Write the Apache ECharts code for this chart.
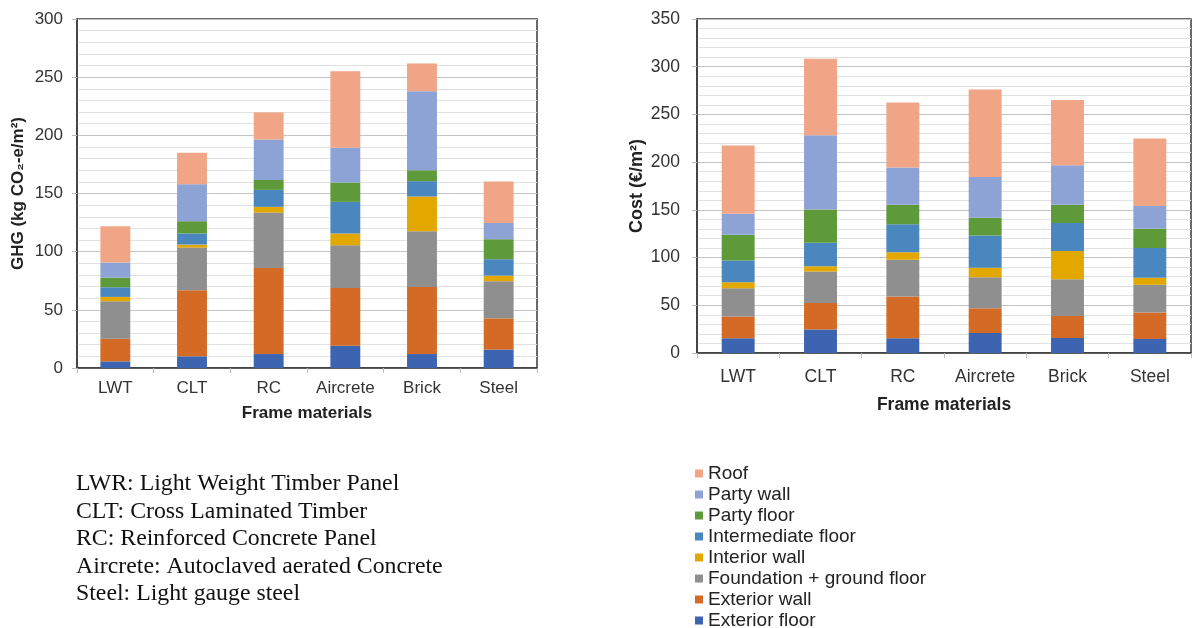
<!DOCTYPE html>
<html>
<head>
<meta charset="utf-8">
<script src="https://cdn.jsdelivr.net/npm/echarts@6/dist/echarts.min.js"></script>
<style>
html,body{margin:0;padding:0;background:#fff;}
#chart{width:1194px;height:628px;}
</style>
</head>
<body>
<div id="chart"></div>
<script>
const categories = ['LWT', 'CLT', 'RC', 'Aircrete', 'Brick', 'Steel'];
const seriesNames = ['Exterior floor', 'Exterior wall', 'Foundation + ground floor', 'Interior wall', 'Intermediate floor', 'Party floor', 'Party wall', 'Roof'];
const legendOrder = ['Roof', 'Party wall', 'Party floor', 'Intermediate floor', 'Interior wall', 'Foundation + ground floor', 'Exterior wall', 'Exterior floor'];
const ghgTicks = [0, 300, 50];
const costTicks = [0, 350, 50];

// GHG (kg CO2-e/m2)
const ghgExteriorFloor = [5.7, 10, 12, 19.2, 12, 15.8];
const ghgExteriorWall = [19.5, 56.8, 74, 49.6, 57.7, 26.9];
const ghgFoundation = [32.2, 36.7, 47.6, 36.7, 47.9, 31.9];
const ghgInteriorWall = [3.7, 2.6, 4.9, 10.1, 29.8, 4.8];
const ghgIntermediateFloor = [8.3, 9.5, 14.6, 27.2, 13.2, 14.1];
const ghgPartyFloor = [8.3, 10.6, 8.6, 16.6, 9.4, 17.2];
const ghgPartyWall = [12.9, 31.8, 34.7, 29.9, 68, 14];
const ghgRoof = [31.3, 27, 23.3, 65.7, 23.8, 35.6];

// Cost (EUR/m2)
const costExteriorFloor = [15.4, 24.5, 15.4, 21, 15.8, 14.7];
const costExteriorWall = [22.8, 28, 43.8, 25.9, 23.1, 27.7];
const costFoundation = [29.7, 32.9, 38.5, 32.6, 38.5, 29];
const costInteriorWall = [6.3, 5.6, 8, 9.8, 29.4, 7.4];
const costIntermediateFloor = [22.8, 24.5, 29.1, 33.9, 29.4, 31.1];
const costPartyFloor = [26.9, 35, 20.6, 18.6, 19.2, 20.3];
const costPartyWall = [22.1, 77.7, 38.9, 42.7, 41.3, 23.8];
const costRoof = [71.4, 80.2, 68.2, 91.7, 68.3, 70.7];

const noteLines = [
  'LWR: Light Weight Timber Panel',
  'CLT: Cross Laminated Timber',
  'RC: Reinforced Concrete Panel',
  'Aircrete: Autoclaved aerated Concrete',
  'Steel: Light gauge steel'
];

const colors = ['#3D64B0', '#D36B27', '#8F8F8F', '#E2A800', '#4A87BF', '#5E9A3A', '#8EA3D5', '#EFA586'];
const ghgData = [ghgExteriorFloor, ghgExteriorWall, ghgFoundation, ghgInteriorWall, ghgIntermediateFloor, ghgPartyFloor, ghgPartyWall, ghgRoof];
const costData = [costExteriorFloor, costExteriorWall, costFoundation, costInteriorWall, costIntermediateFloor, costPartyFloor, costPartyWall, costRoof];

const sans = "'Liberation Sans', Arial, sans-serif";

function makeX(gridIndex, fontSize, margin, nameGap) {
  return {
    type: 'category', gridIndex: gridIndex, data: categories,
    name: 'Frame materials', nameLocation: 'middle', nameGap: nameGap,
    nameTextStyle: { fontFamily: sans, fontWeight: 'bold', fontSize: fontSize, color: '#222' },
    axisLine: { show: true, lineStyle: { color: '#3a3a3a', width: 1.5 } },
    axisTick: { show: true, alignWithLabel: false, length: 5, lineStyle: { color: '#bbb' } },
    axisLabel: { fontFamily: sans, fontSize: fontSize, color: '#333', margin: margin, interval: 0 }
  };
}
function makeY(gridIndex, ticks, name, fontSize, nameSize, margin, nameGap) {
  return {
    type: 'value', gridIndex: gridIndex, min: ticks[0], max: ticks[1], interval: ticks[2],
    name: name, nameLocation: 'middle', nameRotate: 90, nameGap: nameGap,
    nameTextStyle: { fontFamily: sans, fontWeight: 'bold', fontSize: nameSize, color: '#222' },
    axisLine: { show: true, lineStyle: { color: '#3a3a3a', width: 1.5 } },
    axisTick: { show: true, length: 5, lineStyle: { color: '#bbb' } },
    axisLabel: { fontFamily: sans, fontSize: fontSize, color: '#333', margin: margin },
    splitLine: { show: true, lineStyle: { color: '#C4C4C4', width: 1 } },
    minorTick: { show: false, splitNumber: 5 },
    minorSplitLine: { show: true, lineStyle: { color: '#E2E2E2', width: 1 } }
  };
}

const series = [];
seriesNames.forEach(function (n, i) {
  series.push({ name: n, type: 'bar', stack: 'ghg', xAxisIndex: 0, yAxisIndex: 0, barWidth: '39%', data: ghgData[i], itemStyle: { color: colors[i] } });
});
seriesNames.forEach(function (n, i) {
  series.push({ name: n, type: 'bar', stack: 'cost', xAxisIndex: 1, yAxisIndex: 1, barWidth: '40%', data: costData[i], itemStyle: { color: colors[i] } });
});

const chart = echarts.init(document.getElementById('chart'), null, { renderer: 'canvas' });
chart.setOption({
  animation: false,
  backgroundColor: '#fff',
  grid: [
    { left: 77, top: 19, right: 657, bottom: 260, show: true, borderColor: '#3a3a3a', borderWidth: 1.5, backgroundColor: '#fff', containLabel: false },
    { left: 697, top: 19, right: 3, bottom: 275, show: true, borderColor: '#3a3a3a', borderWidth: 1.5, backgroundColor: '#fff', containLabel: false }
  ],
  xAxis: [makeX(0, 17, 12, 37), makeX(1, 17.5, 15, 43)],
  yAxis: [
    makeY(0, ghgTicks, 'GHG (kg CO\u2082-e/m\u00B2)', 17, 17, 14, 50),
    makeY(1, costTicks, 'Cost (\u20AC/m\u00B2)', 17.5, 18, 17, 51)
  ],
  legend: {
    data: legendOrder, orient: 'vertical', left: 695, top: 463, height: 180, padding: 0,
    itemWidth: 8, itemHeight: 8, itemGap: 0, icon: 'rect',
    textStyle: { fontFamily: sans, fontSize: 19, lineHeight: 21, color: '#222', padding: [0, 0, 0, 0] }
  },
  graphic: [{
    type: 'text', left: 76, top: 470,
    style: { text: noteLines.join('\n'), font: "23.8px 'Liberation Serif', 'Times New Roman', serif", lineHeight: 27.5, fill: '#111' }
  }],
  series: series
});
</script>
</body>
</html>
